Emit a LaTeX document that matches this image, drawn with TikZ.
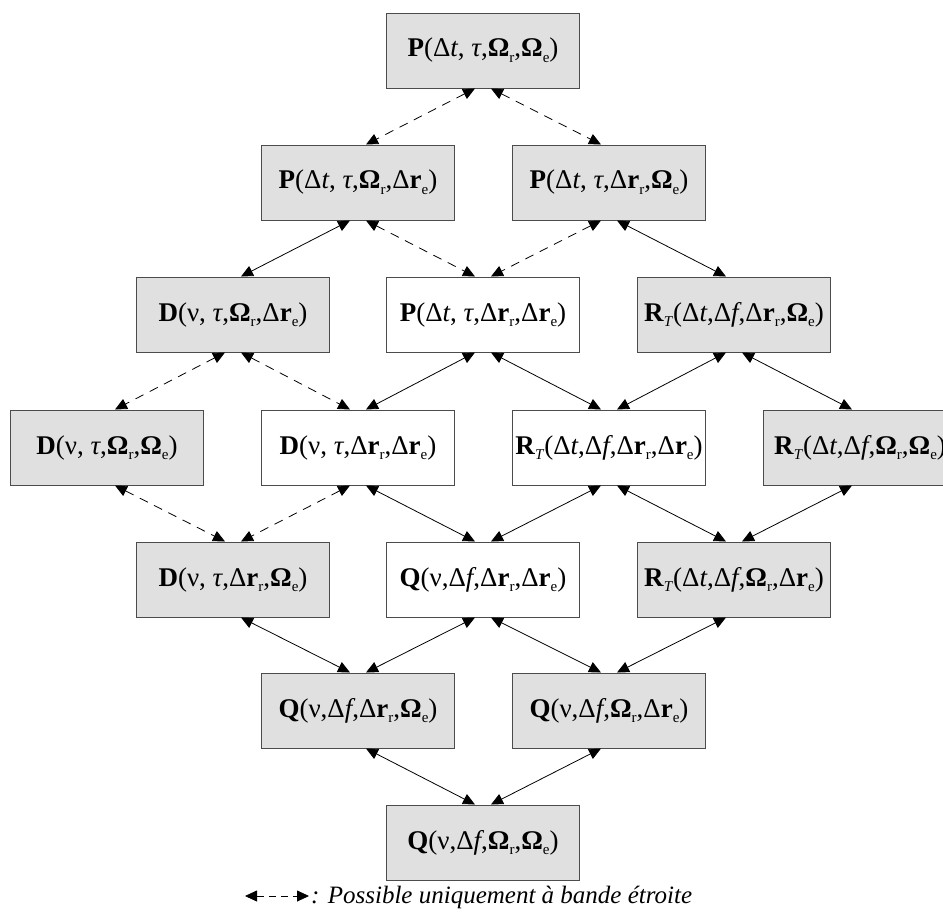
\documentclass[tikz,border=0pt]{standalone}
\usepackage{fontspec}
\usepackage{graphicx}
\setmainfont{Liberation Serif}
\usetikzlibrary{arrows.meta}
\newcommand\lsub[1]{\raisebox{-5.5pt}{\fontsize{15}{15}\selectfont #1}}
\newcommand\Om{\textbf{Ω}}
\newcommand\Dr{Δ\textbf{r}}
\newcommand\RT{\textbf{R}\lsub{\textit{T}}}
\tikzset{
  box/.style={draw=black!70, line width=1pt, minimum width=193pt, minimum height=75pt, inner sep=0pt,
    font=\fontsize{27}{32}\selectfont},
  gbox/.style={box, fill=black!12},
  wbox/.style={box, fill=white},
  link/.style={line width=0.8pt, {Triangle[length=12pt,width=11pt]}-{Triangle[length=12pt,width=11pt]}},
  dlink/.style={link, dash pattern=on 9pt off 7pt},
}
\newcommand\conn[4]{\draw[#1] ([xshift=#4*8]#2.south) -- ([xshift=-#4*8]#3.north);}
\begin{document}
\begin{tikzpicture}[x=1pt,y=-1pt]
\useasboundingbox (0,0) rectangle (943,922);
\clip (0,0) rectangle (943,922);
% row 1
\node[gbox] (n1) at (483,50.5) {\textbf{P}(Δ\textit{t}, \textit{τ},\Om\lsub{r},\Om\lsub{e})};
% row 2
\node[gbox] (n2a) at (358,182.5) {\textbf{P}(Δ\textit{t}, \textit{τ},\Om\lsub{r},\Dr\lsub{e})};
\node[gbox] (n2b) at (609,182.5) {\textbf{P}(Δ\textit{t}, \textit{τ},\Dr\lsub{r},\Om\lsub{e})};
% row 3
\node[gbox] (n3a) at (233,314.5) {\textbf{D}(ν, \textit{τ},\Om\lsub{r},\Dr\lsub{e})};
\node[wbox] (n3b) at (483,314.5) {\textbf{P}(Δ\textit{t}, \textit{τ},\Dr\lsub{r},\Dr\lsub{e})};
\node[gbox] (n3c) at (734,314.5) {\RT(Δ\textit{t},Δ\textit{f},\Dr\lsub{r},\Om\lsub{e})};
% row 4
\node[gbox] (n4a) at (107,447.5) {\textbf{D}(ν, \textit{τ},\Om\lsub{r},\Om\lsub{e})};
\node[wbox] (n4b) at (358,447.5) {\textbf{D}(ν, \textit{τ},\Dr\lsub{r},\Dr\lsub{e})};
\node[wbox] (n4c) at (609,447.5) {\RT(Δ\textit{t},Δ\textit{f},\Dr\lsub{r},\Dr\lsub{e})};
\node[gbox] (n4d) at (860,447.5) {\RT(Δ\textit{t},Δ\textit{f},\Om\lsub{r},\Om\lsub{e})};
% row 5
\node[gbox] (n5a) at (233,579.5) {\textbf{D}(ν, \textit{τ},\Dr\lsub{r},\Om\lsub{e})};
\node[wbox] (n5b) at (483,579.5) {\textbf{Q}(ν,Δ\textit{f},\Dr\lsub{r},\Dr\lsub{e})};
\node[gbox] (n5c) at (734,579.5) {\RT(Δ\textit{t},Δ\textit{f},\Om\lsub{r},\Dr\lsub{e})};
% row 6
\node[gbox] (n6a) at (358,710.5) {\textbf{Q}(ν,Δ\textit{f},\Dr\lsub{r},\Om\lsub{e})};
\node[gbox] (n6b) at (609,710.5) {\textbf{Q}(ν,Δ\textit{f},\Om\lsub{r},\Dr\lsub{e})};
% row 7
\node[gbox] (n7) at (483,842.5) {\textbf{Q}(ν,Δ\textit{f},\Om\lsub{r},\Om\lsub{e})};
% connectors
\conn{dlink}{n1}{n2a}{-1}
\conn{dlink}{n1}{n2b}{1}
\conn{link}{n2a}{n3a}{-1}
\conn{dlink}{n2a}{n3b}{1}
\conn{dlink}{n2b}{n3b}{-1}
\conn{link}{n2b}{n3c}{1}
\conn{dlink}{n3a}{n4a}{-1}
\conn{dlink}{n3a}{n4b}{1}
\conn{link}{n3b}{n4b}{-1}
\conn{link}{n3b}{n4c}{1}
\conn{link}{n3c}{n4c}{-1}
\conn{link}{n3c}{n4d}{1}
\conn{dlink}{n4a}{n5a}{1}
\conn{dlink}{n4b}{n5a}{-1}
\conn{link}{n4b}{n5b}{1}
\conn{link}{n4c}{n5b}{-1}
\conn{link}{n4c}{n5c}{1}
\conn{link}{n4d}{n5c}{-1}
\conn{link}{n5a}{n6a}{1}
\conn{link}{n5b}{n6a}{-1}
\conn{link}{n5b}{n6b}{1}
\conn{link}{n5c}{n6b}{-1}
\conn{link}{n6a}{n7}{1}
\conn{link}{n6b}{n7}{-1}
% legend
\coordinate (la) at (245,896);
\coordinate (lb) at (309,896);
\draw[link, dash pattern=on 7pt off 5pt] (la) -- (lb);
\node[anchor=west, inner sep=0pt, font=\fontsize{25}{30}\selectfont\itshape] (leg) at (311,897) {: Possible uniquement à bande étroite};
\end{tikzpicture}
\end{document}
